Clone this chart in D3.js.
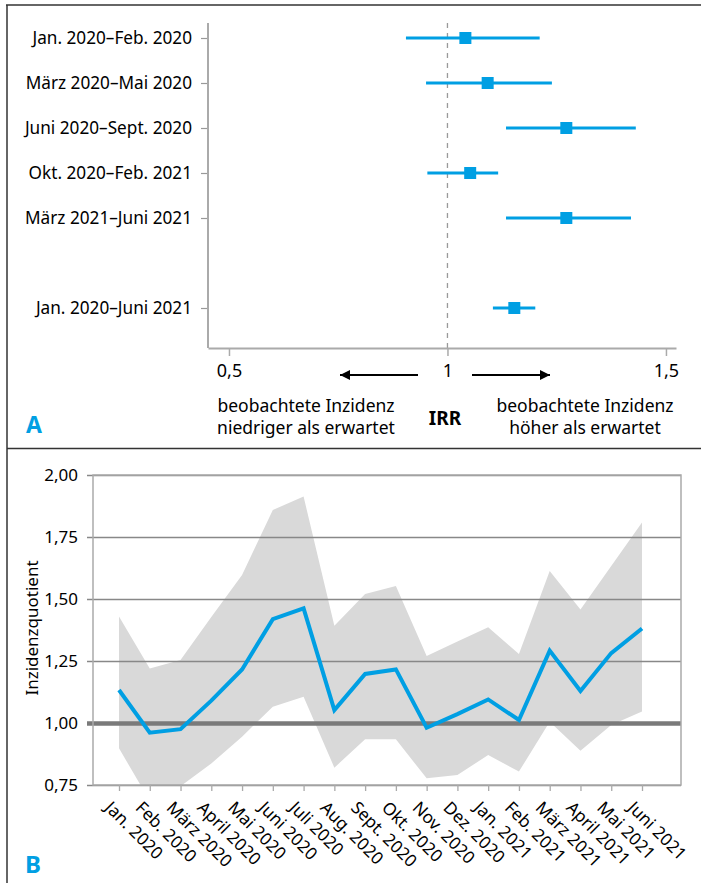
<!DOCTYPE html>
<html>
<head>
<meta charset="utf-8">
<script src="https://cdn.jsdelivr.net/npm/d3@7"></script>
<style>
  body { margin: 0; background: #fff; }
  svg { display: block; font-family: "Noto Sans", "Open Sans", sans-serif; }
  .axis text { fill: #000; }
</style>
</head>
<body>
<script>
// Panel A: IRR per period
var periods = ['Jan. 2020–Feb. 2020', 'März 2020–Mai 2020', 'Juni 2020–Sept. 2020',
  'Okt. 2020–Feb. 2021', 'März 2021–Juni 2021', 'Jan. 2020–Juni 2021']
var irr = [1.041, 1.092, 1.272, 1.052, 1.272, 1.153]
var irrLow = [0.905, 0.951, 1.134, 0.954, 1.134, 1.104]
var irrHigh = [1.211, 1.239, 1.431, 1.116, 1.420, 1.201]
var irrTicks = [0.5, 1, 1.5]

// Panel B: monthly incidence ratio with band
var months = ['Jan. 2020', 'Feb. 2020', 'März 2020', 'April 2020', 'Mai 2020', 'Juni 2020',
  'Juli 2020', 'Aug. 2020', 'Sept. 2020', 'Okt. 2020', 'Nov. 2020', 'Dez. 2020',
  'Jan. 2021', 'Feb. 2021', 'März 2021', 'April 2021', 'Mai 2021', 'Juni 2021']
var ratio = [1.133, 0.961, 0.975, 1.09, 1.216, 1.419, 1.462, 1.052, 1.198, 1.216,
  0.981, 1.036, 1.095, 1.012, 1.292, 1.129, 1.282, 1.381]
var upper = [1.429, 1.220, 1.254, 1.427, 1.597, 1.859, 1.913, 1.392, 1.520, 1.552,
  1.270, 1.329, 1.386, 1.278, 1.613, 1.458, 1.633, 1.808]
var lower = [0.898, 0.686, 0.745, 0.837, 0.945, 1.066, 1.106, 0.820, 0.934, 0.934,
  0.777, 0.790, 0.871, 0.804, 1.005, 0.888, 0.992, 1.046]
var ratioTicks = [0.75, 1.0, 1.25, 1.5, 1.75, 2.0]

var blue = '#009fe3'
var font = '"Noto Sans", "Open Sans", sans-serif'
var de = d3.formatLocale({ decimal: ',', thousands: '.', grouping: [3], currency: ['', '€'] })

var svg = d3.select('body').append('svg')
  .attr('width', 701)
  .attr('height', 883)

// frame
svg.append('line').attr('x1', 6).attr('x2', 701).attr('y1', 5).attr('y2', 5)
  .attr('stroke', '#333').attr('stroke-width', 1.5)
svg.append('line').attr('x1', 7).attr('x2', 7).attr('y1', 5).attr('y2', 883)
  .attr('stroke', '#333').attr('stroke-width', 1.5)
svg.append('line').attr('x1', 7).attr('x2', 701).attr('y1', 448.5).attr('y2', 448.5)
  .attr('stroke', '#333').attr('stroke-width', 1.5)

// ---------- Panel A ----------
var rowKeys = periods.slice(0, 5).concat(['gap'], periods.slice(5))
var yA = d3.scalePoint().domain(rowKeys).range([38, 308])
var xA = d3.scaleLinear().domain([0.452, 1.523]).range([208, 676])

var gA = svg.append('g')

// vertical reference line at 1
gA.append('line')
  .attr('x1', xA(1)).attr('x2', xA(1))
  .attr('y1', 23).attr('y2', 348)
  .attr('stroke', '#999').attr('stroke-width', 1.3)
  .attr('stroke-dasharray', '5,5')

// y axis (periods)
var yAxisA = gA.append('g')
  .attr('class', 'axis')
  .attr('transform', 'translate(208,0)')
  .call(d3.axisLeft(yA).tickValues(rowKeys.filter(function (k) { return k !== 'gap' }))
    .tickSize(7).tickPadding(9).tickSizeOuter(0))
  .attr('font-family', font)
yAxisA.select('.domain').remove()
yAxisA.selectAll('line').attr('stroke', '#999').attr('stroke-width', 1.2)
yAxisA.selectAll('text').style('font-size', '17.2px')
gA.append('line').attr('x1', 208).attr('x2', 208).attr('y1', 23).attr('y2', 348)
  .attr('stroke', '#aaa').attr('stroke-width', 2)

// x axis (IRR)
var xAxisA = gA.append('g')
  .attr('class', 'axis')
  .attr('transform', 'translate(0,348)')
  .call(d3.axisBottom(xA).tickValues(irrTicks).tickFormat(de.format('~g'))
    .tickSize(8).tickPadding(8).tickSizeOuter(0))
  .attr('font-family', font)
xAxisA.select('.domain').attr('stroke', '#aaa').attr('stroke-width', 2)
xAxisA.selectAll('line').attr('stroke', '#aaa').attr('stroke-width', 1.5)
xAxisA.selectAll('text').style('font-size', '18px')

// error bars
var rows = periods.map(function (p, i) {
  return { label: p, est: irr[i], lo: irrLow[i], hi: irrHigh[i] }
})
gA.selectAll('.ci')
  .data(rows)
  .enter()
  .append('line')
  .attr('class', 'ci')
  .attr('x1', function (d) { return xA(d.lo) })
  .attr('x2', function (d) { return xA(d.hi) })
  .attr('y1', function (d) { return yA(d.label) })
  .attr('y2', function (d) { return yA(d.label) })
  .attr('stroke', blue)
  .attr('stroke-width', 3)
gA.selectAll('.est')
  .data(rows)
  .enter()
  .append('rect')
  .attr('class', 'est')
  .attr('x', function (d) { return xA(d.est) - 6 })
  .attr('y', function (d) { return yA(d.label) - 6 })
  .attr('width', 12)
  .attr('height', 12)
  .attr('fill', blue)

// arrows
var defs = svg.append('defs')
defs.append('marker')
  .attr('id', 'arrow')
  .attr('viewBox', '0 0 10 10')
  .attr('refX', 10).attr('refY', 5)
  .attr('markerWidth', 12).attr('markerHeight', 10)
  .attr('markerUnits', 'userSpaceOnUse')
  .attr('orient', 'auto')
  .append('path')
  .attr('d', 'M0,0L10,5L0,10Z')
  .attr('fill', '#000')
gA.append('line').attr('x1', 418).attr('x2', 340).attr('y1', 375).attr('y2', 375)
  .attr('stroke', '#000').attr('stroke-width', 2).attr('marker-end', 'url(#arrow)')
gA.append('line').attr('x1', 472).attr('x2', 550).attr('y1', 375).attr('y2', 375)
  .attr('stroke', '#000').attr('stroke-width', 2).attr('marker-end', 'url(#arrow)')

// captions
function twoLines(x, lines) {
  var t = gA.append('text')
    .attr('text-anchor', 'middle')
    .style('font-size', '17.5px')
  lines.forEach(function (l, i) {
    t.append('tspan').attr('x', x).attr('y', 412 + i * 22).text(l)
  })
}
twoLines(306, ['beobachtete Inzidenz', 'niedriger als erwartet'])
twoLines(585, ['beobachtete Inzidenz', 'höher als erwartet'])
gA.append('text')
  .attr('x', 445).attr('y', 425)
  .attr('text-anchor', 'middle')
  .style('font-size', '19px').style('font-weight', 'bold')
  .text('IRR')
svg.append('text')
  .attr('x', 26).attr('y', 433)
  .style('font-size', '23px').style('font-weight', 'bold')
  .attr('fill', blue)
  .text('A')

// ---------- Panel B ----------
var xB = d3.scalePoint().domain(months).range([119, 642])
var yB = d3.scaleLinear().domain([0.75, 2.0]).range([785, 475])
var gB = svg.append('g')

defs.append('clipPath').attr('id', 'plotB')
  .append('rect').attr('x', 93).attr('y', 475).attr('width', 588).attr('height', 310)

var band = months.map(function (m, i) { return { m: m, lo: lower[i], hi: upper[i], v: ratio[i] } })

gB.append('path')
  .datum(band)
  .attr('clip-path', 'url(#plotB)')
  .attr('fill', '#d9d9d9')
  .attr('d', d3.area()
    .x(function (d) { return xB(d.m) })
    .y0(function (d) { return yB(d.lo) })
    .y1(function (d) { return yB(d.hi) }))

// gridlines + y labels
var yAxisB = gB.append('g')
  .attr('class', 'axis')
  .attr('transform', 'translate(681,0)')
  .call(d3.axisLeft(yB).tickValues(ratioTicks).tickFormat(de.format('.2f'))
    .tickSize(594).tickPadding(9).tickSizeOuter(0))
  .attr('font-family', font)
yAxisB.select('.domain').remove()
yAxisB.selectAll('line').attr('stroke', '#888').attr('stroke-width', 1.3)
yAxisB.selectAll('text').style('font-size', '17px')
yAxisB.selectAll('.tick').filter(function (d) { return d === 1 }).select('line')
  .attr('stroke', '#7a7a7a').attr('stroke-width', 4.5)

// plot frame
gB.append('rect')
  .attr('x', 93).attr('y', 475).attr('width', 588).attr('height', 310)
  .attr('fill', 'none').attr('stroke', '#aaa').attr('stroke-width', 1.5)

// x axis
var xAxisB = gB.append('g')
  .attr('class', 'axis')
  .attr('transform', 'translate(0,785)')
  .call(d3.axisBottom(xB).tickSize(6).tickSizeOuter(0))
  .attr('font-family', font)
xAxisB.select('.domain').remove()
xAxisB.selectAll('line').attr('stroke', '#aaa').attr('stroke-width', 1.3)
xAxisB.selectAll('text')
  .style('font-size', '17.2px')
  .attr('text-anchor', 'start')
  .attr('y', 0).attr('dy', '0.71em')
  .attr('transform', 'translate(-7,15) rotate(45)')

// line
gB.append('path')
  .datum(band)
  .attr('fill', 'none')
  .attr('stroke', blue)
  .attr('stroke-width', 4)
  .attr('stroke-linejoin', 'miter')
  .attr('d', d3.line()
    .x(function (d) { return xB(d.m) })
    .y(function (d) { return yB(d.v) }))

svg.append('text')
  .attr('transform', 'translate(38,628) rotate(-90)')
  .attr('text-anchor', 'middle')
  .style('font-size', '17px')
  .text('Inzidenzquotient')
svg.append('text')
  .attr('x', 25).attr('y', 873)
  .style('font-size', '24px').style('font-weight', 'bold')
  .attr('fill', blue)
  .text('B')
</script>
</body>
</html>
